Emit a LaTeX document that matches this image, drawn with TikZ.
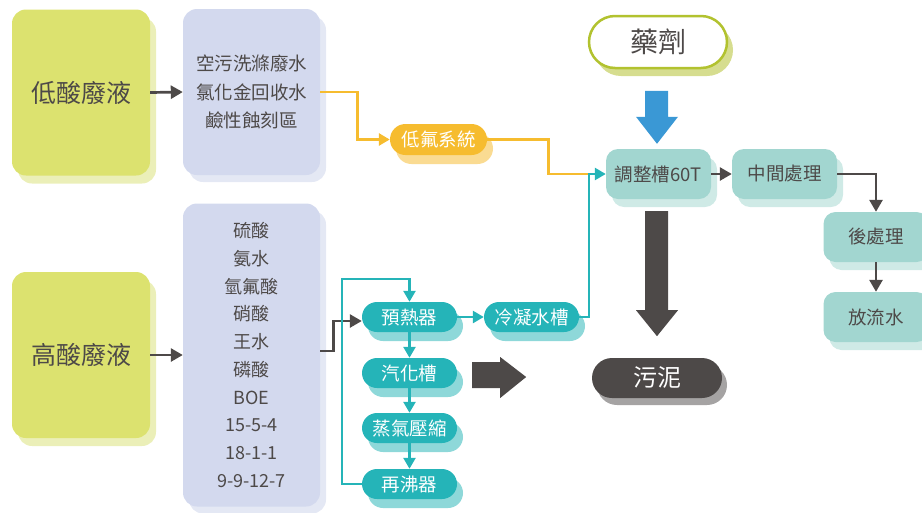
\documentclass[tikz,border=0pt]{standalone}
\usepackage{fontspec}
\setmainfont{Noto Sans CJK TC}
\usetikzlibrary{arrows.meta,shadows}
\definecolor{txt}{HTML}{4D4948}
\definecolor{ygreen}{HTML}{DCE26F}
\definecolor{ygreensh}{HTML}{EBEFB8}
\definecolor{lav}{HTML}{D3D9EE}
\definecolor{lavsh}{HTML}{E4E8F4}
\definecolor{teal}{HTML}{25B4B8}
\definecolor{tealsh}{HTML}{8ED8D9}
\definecolor{lteal}{HTML}{A2D6D0}
\definecolor{ltealsh}{HTML}{CFEAE6}
\definecolor{orng}{HTML}{F6BC2F}
\definecolor{orngsh}{HTML}{FADB92}
\definecolor{darksh}{HTML}{A5A3A3}
\definecolor{blu}{HTML}{3A98D5}
\definecolor{olive}{HTML}{B2C22F}
\definecolor{olivesh}{HTML}{D6DD8F}
\tikzset{
  base/.style={rectangle, inner sep=0pt, text=txt, align=center},
  acidbox/.style={base, fill=ygreen, rounded corners=14pt, minimum width=138pt, minimum height=166pt,
    drop shadow={shadow xshift=6pt, shadow yshift=-8pt, fill=ygreensh, opacity=1},
    font=\fontsize{25}{30}\selectfont},
  listbox/.style={base, fill=lav, rounded corners=14pt, minimum width=137pt,
    drop shadow={shadow xshift=6pt, shadow yshift=-7pt, fill=lavsh, opacity=1}},
  tpill/.style={base, fill=teal, text=white, rounded corners=15pt, minimum width=95pt, minimum height=30pt,
    drop shadow={shadow xshift=6pt, shadow yshift=-9pt, fill=tealsh, opacity=1},
    font=\fontsize{18.5}{22}\selectfont},
  opill/.style={base, fill=orng, text=white, rounded corners=15.5pt, minimum width=97pt, minimum height=31pt,
    drop shadow={shadow xshift=6pt, shadow yshift=-9pt, fill=orngsh, opacity=1},
    font=\fontsize{18.5}{22}\selectfont},
  lbox/.style={base, fill=lteal, rounded corners=12pt, minimum width=105pt, minimum height=50pt,
    drop shadow={shadow xshift=6pt, shadow yshift=-8pt, fill=ltealsh, opacity=1},
    font=\fontsize{18.5}{22}\selectfont},
  drugpill/.style={base, fill=white, draw=olive, line width=2.5pt, rounded corners=26pt,
    minimum width=138pt, minimum height=52pt,
    drop shadow={shadow xshift=6pt, shadow yshift=-8pt, fill=olivesh, opacity=1},
    font=\fontsize{28}{32}\selectfont},
  sludgepill/.style={base, fill=txt, text=white, rounded corners=20pt, minimum width=130pt, minimum height=40pt,
    drop shadow={shadow xshift=5pt, shadow yshift=-7pt, fill=darksh, opacity=1},
    font=\fontsize{24}{28}\selectfont},
  darr/.style={draw=txt, line width=2.7pt, -{Triangle[length=12pt,width=13pt]}},
  tarr/.style={draw=teal, line width=2.6pt, -{Triangle[length=11pt,width=12pt]}},
  tline/.style={draw=teal, line width=2.6pt},
  oarr/.style={draw=orng, line width=2.8pt, -{Triangle[length=11pt,width=12pt]}},
  oline/.style={draw=orng, line width=2.8pt},
}
\begin{document}
\begin{tikzpicture}[x=1pt,y=-1pt]
\useasboundingbox (0,0) rectangle (922,512);

% left column
\node[acidbox] (low) at (81,92.5) {低酸廢液};
\node[acidbox] (high) at (81,355) {高酸廢液};

\node[listbox, minimum height=166pt, font=\fontsize{18.5}{28.5}\selectfont] (kbox) at (251.5,92)
  {空污洗滌廢水\\氯化金回收水\\鹼性蝕刻區};
\node[listbox, minimum height=303pt, font=\fontsize{18}{27.7}\selectfont] (lav) at (251.5,355)
  {硫酸\\氨水\\氫氟酸\\硝酸\\王水\\磷酸\\BOE\\15-5-4\\18-1-1\\9-9-12-7};

% pills
\node[opill] (lowF) at (438.5,139.5) {低氟系統};
\node[tpill] (pre) at (409.5,317) {預熱器};
\node[tpill] (cond) at (531.5,317) {冷凝水槽};
\node[tpill] (vap) at (409.5,373) {汽化槽};
\node[tpill] (comp) at (409.5,428) {蒸氣壓縮};
\node[tpill] (reb) at (409.5,484) {再沸器};

% right part
\node[drugpill] (drug) at (658,42) {藥劑};
\node[lbox] (adj) at (658.5,174) {調整槽60T};
\node[lbox] (mid) at (784.5,174) {中間處理};
\node[lbox] (post) at (876,237) {後處理};
\node[lbox] (out) at (876,317) {放流水};
\node[sludgepill] (sludge) at (657,378) {污泥};

% helper coordinates
\coordinate (jn) at (589,174);
\coordinate (lpT) at (342,279);

% connectors
\draw[darr] (low.east) -- (kbox.west);
\draw[darr] (high.east) -- (lav.west);
\draw[darr] ([yshift=4pt]lav.east) -- ++(13,0) |- ([yshift=-4pt]pre.west);

\draw[oarr] (kbox.east) -- ++(37,0) |- (lowF.west);
\draw[oline] (lowF.east) -- ++(61,0) |- (jn);

\draw[tarr] (reb.west) -| (lpT) -| (pre.north);
\draw[tarr] (pre.east) -- (cond.west);
\draw[tarr] (pre.south) -- (vap.north);
\draw[tarr] (vap.south) -- (comp.north);
\draw[tarr] (comp.south) -- (reb.north);
\draw[tarr] (cond.east) -| (jn) -- (adj.west);

\draw[darr] (adj.east) -- (mid.west);
\draw[darr] (mid.east) -| (post.north);
\draw[darr] (post.south) -- (out.north);

% big block arrows
\begin{scope}[shift={(adj.north)}]
  \fill[blu] (-13.5,-58) -- (9.5,-58) -- (9.5,-32) -- (19.5,-32) -- (-1.5,-5) -- (-22.5,-32) -- (-13.5,-32) -- cycle;
\end{scope}
\begin{scope}[shift={(adj.south)}]
  \fill[txt] (-13.5,12) -- (9.5,12) -- (9.5,111) -- (19.5,111) -- (-1.5,137) -- (-22.5,111) -- (-13.5,111) -- cycle;
\end{scope}
\begin{scope}[shift={(vap.east)}]
  \fill[txt] (15,-11) -- (43,-11) -- (43,-16) -- (69,4) -- (43,25) -- (43,15) -- (15,15) -- cycle;
\end{scope}
\end{tikzpicture}
\end{document}
